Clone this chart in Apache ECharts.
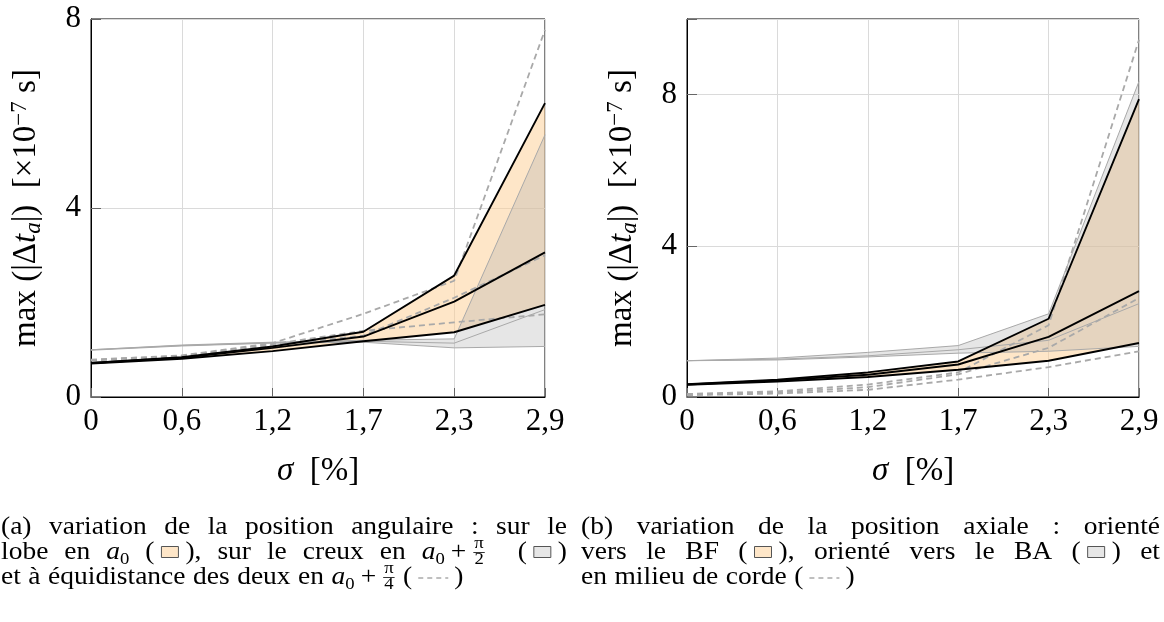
<!DOCTYPE html>
<html><head><meta charset="utf-8">
<script src="https://cdn.jsdelivr.net/npm/echarts@6/dist/echarts.min.js"></script>
<style>html,body{margin:0;padding:0;background:#fff}#c{width:1164px;height:622px}</style>
</head><body><div id="c"></div>
<script>
// ---------- data ----------
const xLabels = ['0', '0,6', '1,2', '1,7', '2,3', '2,9'];
const yTicksA = [0, 4, 8];
const yTicksB = [0, 4, 8];

// (a) angular position
const aLobeMax  = [0.72, 0.84, 1.07, 1.38, 2.57, 6.22];
const aLobeMean = [0.72, 0.83, 1.04, 1.28, 2.02, 3.06];
const aLobeMin  = [0.71, 0.81, 0.97, 1.18, 1.37, 1.95];
const aCreuxMax  = [1.00, 1.10, 1.16, 1.20, 1.23, 5.55];
const aCreuxMean = [1.00, 1.09, 1.15, 1.18, 1.14, 1.85];
const aCreuxMin  = [0.99, 1.08, 1.14, 1.16, 1.04, 1.07];
const aQuartMax  = [0.79, 0.88, 1.14, 1.76, 2.46, 7.77];
const aQuartMean = [0.78, 0.87, 1.12, 1.40, 1.58, 1.75];
const aQuartMin  = [0.77, 0.86, 1.09, 1.30, 2.10, 3.00];

// (b) axial position
const bBFMax  = [0.34, 0.46, 0.65, 0.94, 2.07, 7.88];
const bBFMean = [0.33, 0.44, 0.59, 0.86, 1.59, 2.80];
const bBFMin  = [0.32, 0.41, 0.53, 0.72, 0.96, 1.43];
const bBAMax  = [0.96, 1.03, 1.18, 1.36, 2.20, 8.35];
const bBAMean = [0.96, 1.00, 1.09, 1.25, 1.50, 2.47];
const bBAMin  = [0.96, 0.98, 1.06, 1.16, 1.21, 1.34];
const bMidMax  = [0.08, 0.15, 0.33, 0.65, 1.90, 9.45];
const bMidMean = [0.06, 0.12, 0.26, 0.60, 1.30, 2.62];
const bMidMin  = [0.05, 0.09, 0.19, 0.46, 0.79, 1.21];

// ---------- styling ----------
const FAM = '"Liberation Serif", "Times New Roman", serif';
const ORANGE_FILL = 'rgba(253,205,145,0.5)';
const GREY_FILL = 'rgba(172,172,172,0.3)';
const GREY_LINE = '#a9a9a9';

const chart = echarts.init(document.getElementById('c'));

function bandSeries(gi, lower, upper, color, stack) {
  return [
    {type: 'line', xAxisIndex: gi, yAxisIndex: gi, stack, data: lower, symbol: 'none',
     lineStyle: {width: 0, opacity: 0}, silent: true, z: 1},
    {type: 'line', xAxisIndex: gi, yAxisIndex: gi, stack, data: upper.map((v, i) => +(v - lower[i]).toFixed(4)),
     symbol: 'none', lineStyle: {width: 0, opacity: 0}, areaStyle: {color: color, opacity: 1}, silent: true, z: 1}
  ];
}
function lineSeries(gi, data, color, width, dash, z) {
  return {type: 'line', xAxisIndex: gi, yAxisIndex: gi, data, symbol: 'none', silent: true, z,
          lineStyle: {color, width, type: dash ? [6, 4] : 'solid'}};
}

const richName = {
  n: {fontSize: 33, fontFamily: FAM, color: '#000', lineHeight: 37},
  i: {fontSize: 33, fontFamily: FAM, fontStyle: 'italic', color: '#000', lineHeight: 37},
  sub: {fontSize: 23, fontFamily: FAM, fontStyle: 'italic', color: '#000', verticalAlign: 'bottom', lineHeight: 16},
  sup: {fontSize: 23, fontFamily: FAM, color: '#000', verticalAlign: 'top', lineHeight: 17}
};

function xAxisCfg(gi) {
  return {
    type: 'category', gridIndex: gi, data: xLabels, boundaryGap: false,
    axisLine: {show: true, lineStyle: {color: '#000', width: 1}},
    axisTick: {show: true, inside: true, length: 9, lineStyle: {color: '#666', width: 1}},
    axisLabel: {fontFamily: FAM, fontSize: 31, color: '#000', margin: 9},
    splitLine: {show: true, lineStyle: {color: '#dadada', width: 1}},
    name: '{i|σ}  {n|[%]}', nameLocation: 'middle', nameGap: 56,
    nameTextStyle: {rich: richName, fontFamily: FAM, fontSize: 33, color: '#000'}
  };
}
function yAxisCfg(gi, max, ticks) {
  return {
    type: 'value', gridIndex: gi, min: 0, max: max, interval: 4,
    axisLine: {show: true, lineStyle: {color: '#000', width: 1}},
    axisTick: {show: true, inside: true, length: 10, lineStyle: {color: '#666', width: 1}},
    axisLabel: {fontFamily: FAM, fontSize: 31, color: '#000', margin: 10,
                formatter: v => ticks.includes(v) ? String(v) : ''},
    splitLine: {show: true, lineStyle: {color: '#dadada', width: 1}},
    name: '{n|max (|Δ}{i|t}{sub|a}{n||)  [×10}{sup|−7}{n| s]}',
    nameLocation: 'middle', nameGap: 46, nameRotate: 90,
    nameTextStyle: {rich: richName, fontFamily: FAM, fontSize: 33, color: '#000'}
  };
}

const series = [].concat(
  // (a)
  bandSeries(0, aLobeMin, aLobeMax, ORANGE_FILL, 'aLobe'),
  bandSeries(0, aCreuxMin, aCreuxMax, GREY_FILL, 'aCreux'),
  [aCreuxMin, aCreuxMean, aCreuxMax].map(d => lineSeries(0, d, GREY_LINE, 1, false, 3)),
  [aQuartMin, aQuartMean, aQuartMax].map(d => lineSeries(0, d, GREY_LINE, 1.8, true, 4)),
  [aLobeMin, aLobeMean, aLobeMax].map(d => lineSeries(0, d, '#000', 1.9, false, 5)),
  // (b)
  bandSeries(1, bBFMin, bBFMax, ORANGE_FILL, 'bBF'),
  bandSeries(1, bBAMin, bBAMax, GREY_FILL, 'bBA'),
  [bBAMin, bBAMean, bBAMax].map(d => lineSeries(1, d, GREY_LINE, 1, false, 3)),
  [bMidMin, bMidMean, bMidMax].map(d => lineSeries(1, d, GREY_LINE, 1.8, true, 4)),
  [bBFMin, bBFMean, bBFMax].map(d => lineSeries(1, d, '#000', 1.9, false, 5))
);

// ---------- caption layout ----------
const CF = 25, SF = 17, SX = 1.1;
const mctx = document.createElement('canvas').getContext('2d');
function tw(s, size, italic) { mctx.font = (italic ? 'italic ' : '') + size + 'px ' + FAM; return mctx.measureText(s).width * SX; }
const T = (s, it) => ({t: 'text', s, it});
const SUB = s => ({t: 'sub', s});
const FR = (n, d) => ({t: 'frac', n, d});
const SW = c => ({t: 'sw', c});
const G = w => ({t: 'gap', w});
const DASH = () => ({t: 'dash'});

function textEl(s, x, B, size, italic) {
  return {type: 'text', silent: true, x: x, y: B - 0.3375 * size, scaleX: SX, scaleY: 1, style: {
    text: s, x: 0, y: 0, fill: '#000',
    font: (italic ? 'italic ' : '') + size + 'px ' + FAM,
    fontSize: size, fontFamily: FAM, fontStyle: italic ? 'italic' : 'normal',
    textAlign: 'left', align: 'left', textVerticalAlign: 'middle', verticalAlign: 'middle'}};
}

function layoutLine(segs, x0, B, target) {
  const items = [];
  const spW = 0.3 * CF;
  segs.forEach(sg => {
    if (sg.t === 'text') {
      sg.s.split(' ').forEach((p, i) => {
        if (i > 0) items.push({k: 'space', w: spW});
        if (p) items.push({k: 'txt', s: p, it: sg.it, w: tw(p, CF, sg.it)});
      });
    } else if (sg.t === 'sub') items.push({k: 'sub', s: sg.s, w: tw(sg.s, SF)});
    else if (sg.t === 'gap') items.push({k: 'gap', w: sg.w});
    else if (sg.t === 'frac') items.push({k: 'frac', n: sg.n, d: sg.d, w: Math.max(tw(sg.n, SF), tw(sg.d, SF)) + 4});
    else if (sg.t === 'sw') items.push({k: 'sw', c: sg.c, w: 31});
    else if (sg.t === 'dash') items.push({k: 'dash', w: 42});
  });
  const total = items.reduce((a, b) => a + b.w, 0);
  const nSp = items.filter(it => it.k === 'space').length;
  const extra = target ? (target - total) / Math.max(nSp, 1) : 0;
  const els = [];
  let x = x0;
  items.forEach(it => {
    if (it.k === 'space') { x += it.w + extra; return; }
    if (it.k === 'txt') els.push(textEl(it.s, x, B, CF, it.it));
    else if (it.k === 'sub') els.push(textEl(it.s, x, B + 4, SF, false));
    else if (it.k === 'frac') {
      const cx = x + it.w / 2;
      els.push(textEl(it.n, cx - tw(it.n, SF) / 2, B - 11.5, SF, false));
      els.push(textEl(it.d, cx - tw(it.d, SF) / 2, B + 4.5, SF, false));
      els.push({type: 'line', silent: true, shape: {x1: x + 1, y1: B - 8.5, x2: x + it.w - 1, y2: B - 8.5},
                style: {stroke: '#000', lineWidth: 0.8}});
    } else if (it.k === 'sw') {
      els.push({type: 'rect', silent: true, shape: {x: x + 7, y: B - 14.5, width: 17, height: 11},
                style: {fill: it.c, stroke: '#555', lineWidth: 1}});
    } else if (it.k === 'dash') {
      els.push({type: 'line', silent: true, shape: {x1: x + 6, y1: B - 8, x2: x + it.w - 6, y2: B - 8},
                style: {stroke: '#aaa', lineWidth: 1.4, lineDash: [5, 4]}});
    }
    x += it.w;
  });
  return els;
}

const ORANGE_SW = 'rgb(254,230,200)', GREY_SW = 'rgb(230,230,230)';
const capA = [
  [[T('(a) variation de la position angulaire : sur le')], 566],
  [[T('lobe en '), T('a', true), SUB('0'), T(' ('), SW(ORANGE_SW), T('), sur le creux en '), T('a', true), SUB('0'),
    G(6), T('+'), G(6), FR('π', '2'), T('  ('), SW(GREY_SW), T(')')], 566],
  [[T('et à équidistance des deux en '), T('a', true), SUB('0'), G(6), T('+'), G(6), FR('π', '4'), T(' ('), DASH(), T(')')], 0]
];
const capB = [
  [[T('(b) variation de la position axiale : orienté')], 579],
  [[T('vers le BF ('), SW(ORANGE_SW), T('), orienté vers le BA ('), SW(GREY_SW), T(') et')], 579],
  [[T('en milieu de corde ('), DASH(), T(')')], 0]
];
const baselines = [536, 561, 586];
let graphics = [];
capA.forEach((l, i) => graphics = graphics.concat(layoutLine(l[0], 1, baselines[i], l[1])));
capB.forEach((l, i) => graphics = graphics.concat(layoutLine(l[0], 581, baselines[i], l[1])));

chart.setOption({
  animation: false,
  backgroundColor: '#fff',
  grid: [
    {left: 91, top: 19, width: 454, height: 378, show: true, borderColor: '#000', borderWidth: 1,
     backgroundColor: 'transparent', containLabel: false, outerBoundsMode: 'none'},
    {left: 687, top: 19, width: 452, height: 378, show: true, borderColor: '#000', borderWidth: 1,
     backgroundColor: 'transparent', containLabel: false, outerBoundsMode: 'none'}
  ],
  xAxis: [xAxisCfg(0), xAxisCfg(1)],
  yAxis: [yAxisCfg(0, 8, yTicksA), yAxisCfg(1, 10, yTicksB)],
  series: series,
  graphic: {elements: graphics}
});
</script></body></html>
